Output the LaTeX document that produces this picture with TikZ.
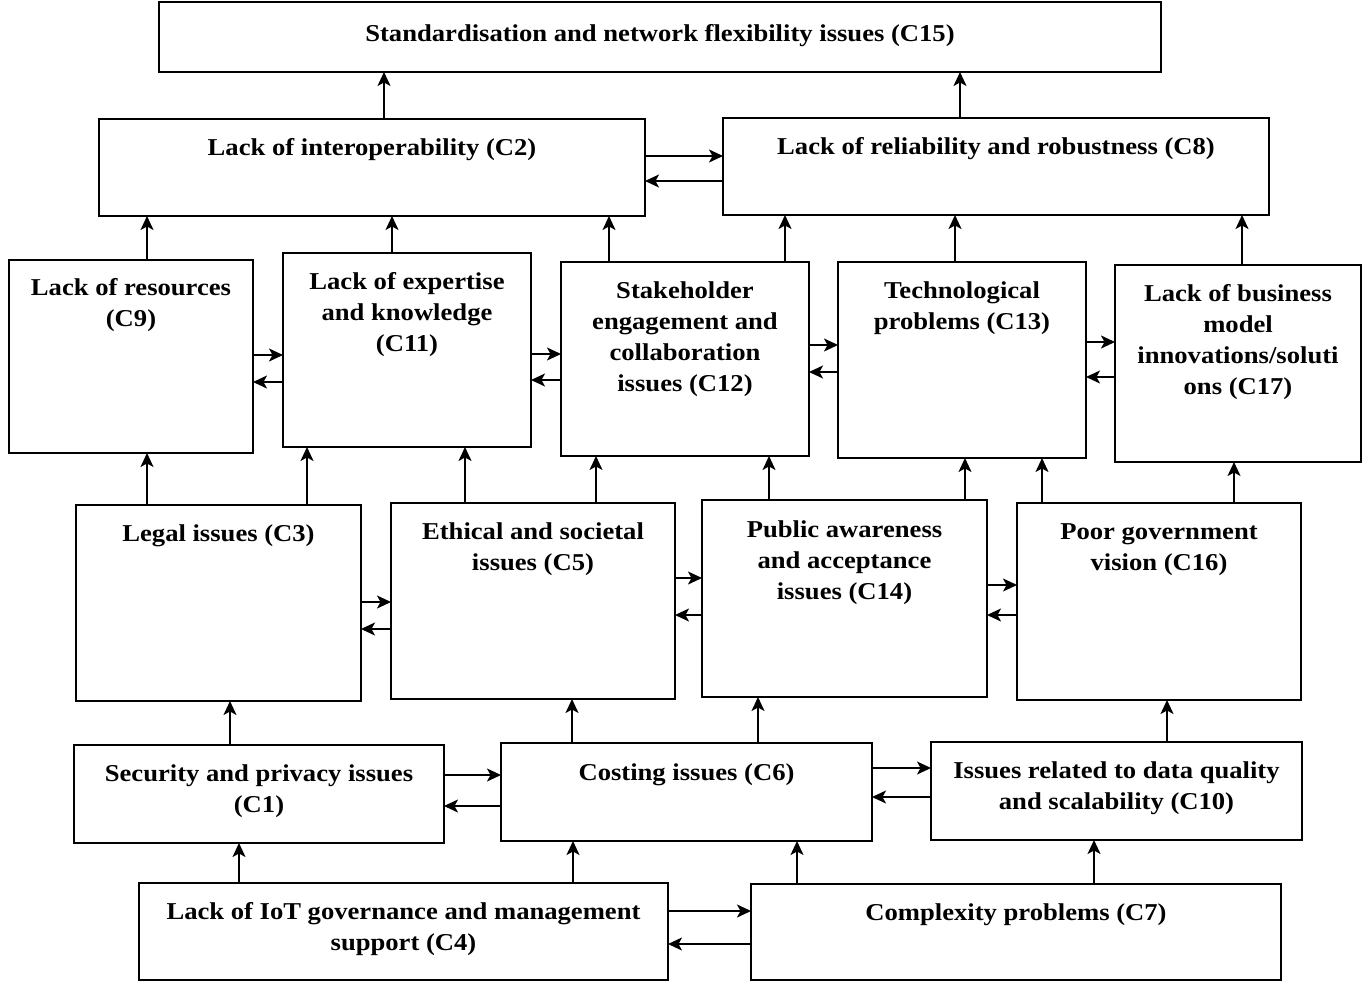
\documentclass[tikz,border=0pt]{standalone}
\usepackage{fontspec}
\setmainfont{Liberation Serif}[FakeStretch=1.1]
\usetikzlibrary{arrows.meta}
\tikzset{
  box/.style={draw, line width=1.6pt, anchor=north west, inner sep=0pt, outer sep=0pt},
  arr/.style={line width=1.6pt, -{Stealth[length=14pt,width=13pt,inset=3.5pt]}}
}
% #1 name, #2 x, #3 y, #4 w, #5 h, #6 first baseline offset, #7 text
\newcommand{\bx}[7]{\node[box] (#1) at (#2,#3) {\parbox[t][#5pt][t]{#4pt}{\centering\rule{0pt}{#6pt}#7}};}
% vertical arrow from lower #1 up to upper #2 at x=#3
\newcommand{\up}[3]{\draw[arr] (#1.north -| #3,0) -- (#2.south -| #3,0);}
% pair of horizontal arrows between left #1 and right #2, right arrow at y=#3, left arrow at y=#4
\newcommand{\pairh}[4]{\draw[arr] (#1.east |- 0,#3) -- (#2.west |- 0,#3);\draw[arr] (#2.west |- 0,#4) -- (#1.east |- 0,#4);}
\begin{document}
\begin{tikzpicture}[x=1pt,y=-1pt,font=\fontsize{24.2}{31}\selectfont\bfseries]
\useasboundingbox (0,0) rectangle (1370,982);
\bx{C15}{159}{2}{1002}{70}{40}{Standardisation and network flexibility issues (C15)}
\bx{C2}{99}{119}{546}{97}{36}{Lack of interoperability (C2)}
\bx{C8}{723}{118}{546}{97}{36}{Lack of reliability and robustness (C8)}
\bx{C9}{9}{260}{244}{193}{35}{Lack of resources\\(C9)}
\bx{C11}{283}{253}{248}{194}{36}{Lack of expertise\\and knowledge\\(C11)}
\bx{C12}{561}{262}{248}{194}{36}{Stakeholder\\engagement and\\collaboration\\issues (C12)}
\bx{C13}{838}{262}{248}{196}{36}{Technological\\problems (C13)}
\bx{C17}{1115}{265}{246}{197}{36}{Lack of business\\model\\innovations/soluti\\ons (C17)}
\bx{C3}{76}{505}{285}{196}{36}{Legal issues (C3)}
\bx{C5}{391}{503}{284}{196}{36}{Ethical and societal\\issues (C5)}
\bx{C14}{702}{500}{285}{197}{37}{Public awareness\\and acceptance\\issues (C14)}
\bx{C16}{1017}{503}{284}{197}{36}{Poor government\\vision (C16)}
\bx{C1}{74}{745}{370}{98}{36}{Security and privacy issues\\(C1)}
\bx{C6}{501}{743}{371}{98}{37}{Costing issues (C6)}
\bx{C10}{931}{742}{371}{98}{36}{Issues related to data quality\\and scalability (C10)}
\bx{C4}{139}{883}{529}{97}{36}{Lack of IoT governance and management\\support (C4)}
\bx{C7}{751}{884}{530}{96}{36}{Complexity problems (C7)}
% row 2 -> C15
\up{C2}{C15}{384}
\up{C8}{C15}{960}
\pairh{C2}{C8}{156}{181}
% row 3 -> row 2
\up{C9}{C2}{147}
\up{C11}{C2}{392}
\up{C12}{C2}{609}
\up{C12}{C8}{785}
\up{C13}{C8}{955}
\up{C17}{C8}{1242}
\pairh{C9}{C11}{355}{382}
\pairh{C11}{C12}{354}{380}
\pairh{C12}{C13}{345}{372}
\pairh{C13}{C17}{342}{377}
% row 4 -> row 3
\up{C3}{C9}{147}
\up{C3}{C11}{307}
\up{C5}{C11}{465}
\up{C5}{C12}{596}
\up{C14}{C12}{769}
\up{C14}{C13}{965}
\up{C16}{C13}{1042}
\up{C16}{C17}{1234}
\pairh{C3}{C5}{602}{629}
\pairh{C5}{C14}{578}{615}
\pairh{C14}{C16}{585}{615}
% row 5 -> row 4
\up{C1}{C3}{230}
\up{C6}{C5}{572}
\up{C6}{C14}{758}
\up{C10}{C16}{1167}
\pairh{C1}{C6}{775}{806}
\pairh{C6}{C10}{768}{797}
% row 6 -> row 5
\up{C4}{C1}{239}
\up{C4}{C6}{573}
\up{C7}{C6}{797}
\up{C7}{C10}{1094}
\pairh{C4}{C7}{911}{944}
\end{tikzpicture}
\end{document}
